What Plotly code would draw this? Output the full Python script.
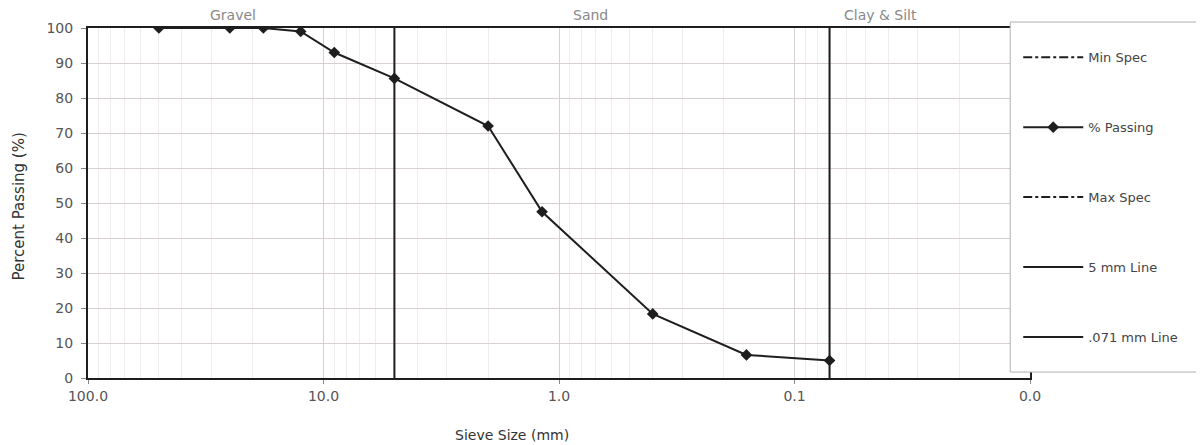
import plotly.graph_objects as go

# ---- data ----
sieve_mm = [50, 25, 18, 12.5, 9, 5, 2, 1.18, 0.4, 0.16, 0.071]
pct_passing = [100, 100, 100, 99, 93, 85.6, 72, 47.5, 18.3, 6.6, 5.0]
line_5mm_x = [5, 5]
line_071_x = [0.071, 0.071]
vline_y = [0, 100]
x_tickvals = [100, 10, 1, 0.1, 0.01]
x_ticktext = ["100.0", "10.0", "1.0", "0.1", "0.0"]
y_tickvals = [0, 10, 20, 30, 40, 50, 60, 70, 80, 90, 100]
minor_vals = [k * 10 ** e for e in range(-2, 2) for k in range(2, 10)]

INK = "#1e1e1e"
TXT = "#555555"
FONT = "DejaVu Sans"

fig = go.Figure()
fig.add_trace(go.Scatter(x=[None], y=[None], mode="lines", name="Min Spec",
                         line=dict(color=INK, width=2, dash="dashdot"),
                         legendgroup="a"))
fig.add_trace(go.Scatter(x=sieve_mm, y=pct_passing, mode="lines+markers", name="% Passing",
                         line=dict(color=INK, width=2),
                         marker=dict(symbol="diamond", size=9, color=INK),
                         legendgroup="b"))
fig.add_trace(go.Scatter(x=[None], y=[None], mode="lines", name="Max Spec",
                         line=dict(color=INK, width=2, dash="dashdot"),
                         legendgroup="c"))
fig.add_trace(go.Scatter(x=line_5mm_x, y=vline_y, mode="lines", name="5 mm Line",
                         line=dict(color=INK, width=2), legendgroup="d"))
fig.add_trace(go.Scatter(x=line_071_x, y=vline_y, mode="lines", name=".071 mm Line",
                         line=dict(color=INK, width=2), legendgroup="e"))

fig.update_xaxes(type="log", range=[2, -2], tickvals=x_tickvals, ticktext=x_ticktext,
                 showgrid=True, gridcolor="#d2d2d2", gridwidth=1,
                 minor=dict(tickvals=minor_vals, showgrid=True, gridcolor="#ededed", gridwidth=1,
                            ticks=""),
                 showline=True, linecolor=INK, linewidth=2, mirror=True,
                 ticks="outside", ticklen=4, tickcolor="#888888",
                 tickfont=dict(family=FONT, size=14, color=TXT), zeroline=False)
fig.update_yaxes(range=[0, 100], tickvals=y_tickvals,
                 showgrid=True, gridcolor="#d8d0d0", gridwidth=1,
                 showline=True, linecolor=INK, linewidth=2, mirror=True,
                 ticks="outside", ticklen=5, tickcolor="#888888", ticklabelstandoff=5,
                 tickfont=dict(family=FONT, size=14, color=TXT), zeroline=False)

# legend box (white panel covering the right part of the plot)
fig.add_shape(type="rect", xref="paper", yref="paper", x0=0.979, x1=1.182, y0=0.017, y1=1.017,
              fillcolor="white", line=dict(color="#b0b0b0", width=1), layer="above")

ann = dict(xref="paper", yref="paper", showarrow=False, xanchor="center", yanchor="middle")
fig.add_annotation(text="Gravel", x=0.154, y=1.037,
                   font=dict(family=FONT, size=14, color="#888888"), **ann)
fig.add_annotation(text="Sand", x=0.533, y=1.037,
                   font=dict(family=FONT, size=14, color="#888888"), **ann)
fig.add_annotation(text="Clay & Silt", x=0.841, y=1.037,
                   font=dict(family=FONT, size=14, color="#888888"), **ann)
fig.add_annotation(text="Sieve Size (mm)", x=0.45, y=-0.163,
                   font=dict(family=FONT, size=14, color="#333333"), **ann)
fig.add_annotation(text="Percent Passing (%)", x=-0.0743, y=0.49, textangle=-90,
                   font=dict(family=FONT, size=15, color="#333333"), **ann)

fig.update_layout(
    width=1196, height=437,
    margin=dict(l=80, r=174, t=20, b=67, autoexpand=False),
    paper_bgcolor="white", plot_bgcolor="white",
    showlegend=True,
    legend=dict(x=0.9875, y=0.959, xanchor="left", yanchor="top",
                bgcolor="rgba(0,0,0,0)", borderwidth=0,
                font=dict(family=FONT, size=13, color="#444444"),
                traceorder="grouped", tracegroupgap=50, itemwidth=60),
)

fig.write_html("out.html")
